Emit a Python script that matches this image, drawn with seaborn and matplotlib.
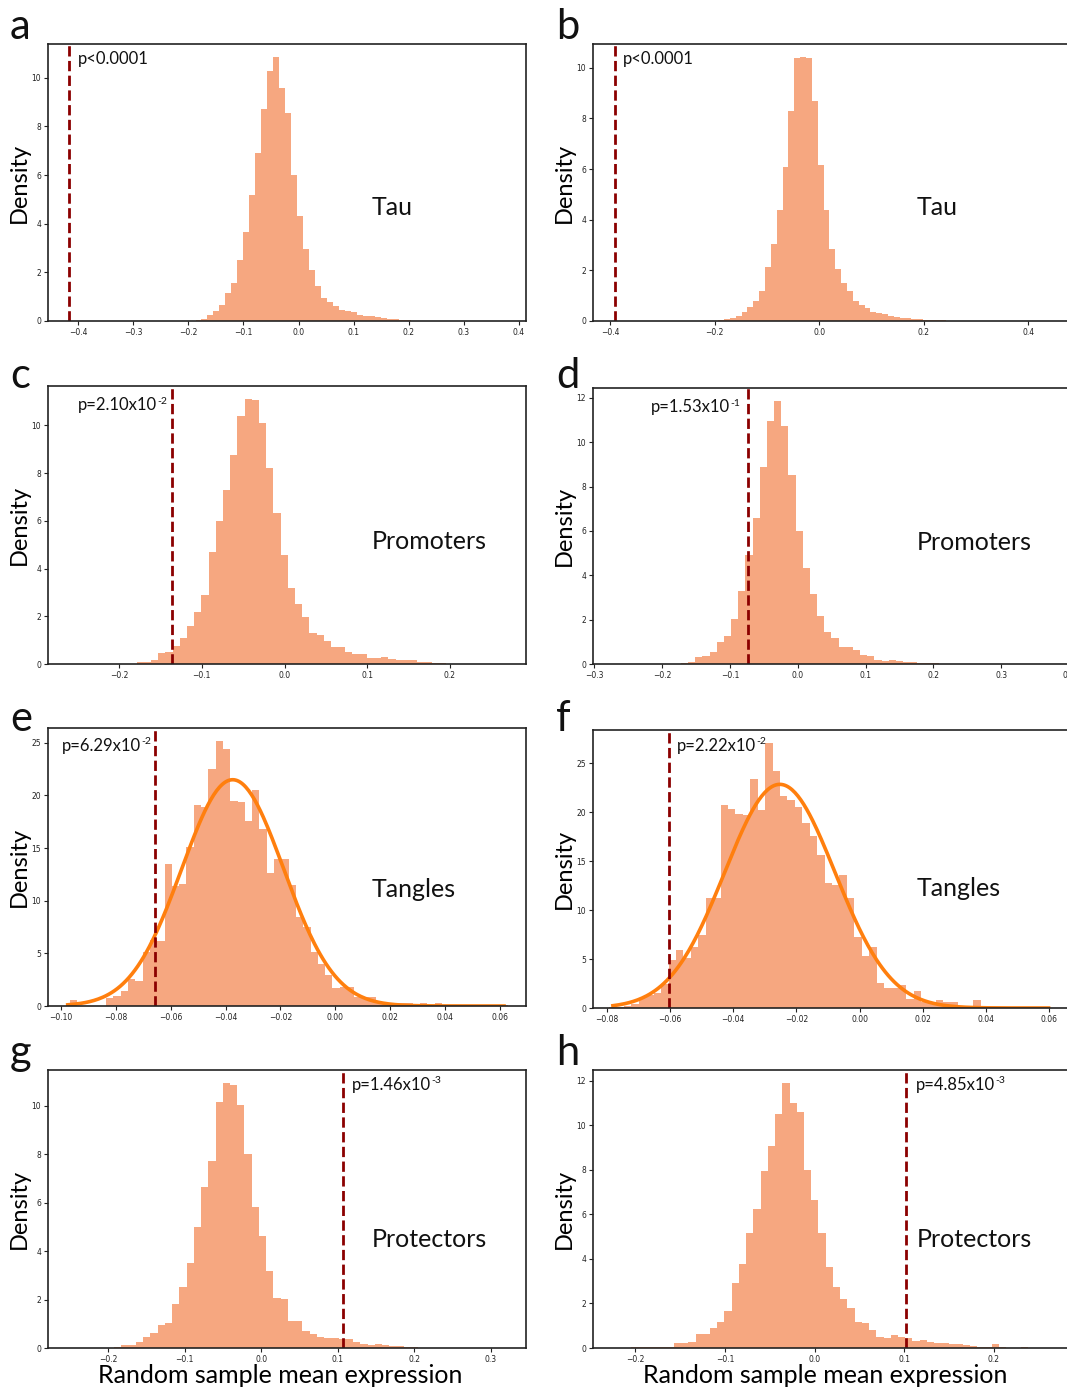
import numpy as np
import matplotlib
matplotlib.use("Agg")
import matplotlib.pyplot as plt
import seaborn as sns

# ---- data (density per bin) ----
# a: Tau, left column
tau_a_start, tau_a_width = -0.198, 0.01085
tau_a_density = [0.02, 0.05, 0.1, 0.25, 0.4, 0.65, 1.15, 1.55, 2.5, 3.65, 5.2, 6.9, 8.7, 10.3,
                 10.85, 9.6, 8.55, 6.0, 4.3, 2.95, 2.1, 1.45, 0.95, 0.8, 0.6, 0.45, 0.4, 0.35,
                 0.25, 0.2, 0.2, 0.15, 0.12, 0.1, 0.07, 0.05, 0.03, 0.02, 0.01, 0.01]
tau_a_obs = -0.417

# b: Tau, right column
tau_b_start, tau_b_width = -0.193, 0.0112
tau_b_density = [0.04, 0.08, 0.12, 0.2, 0.35, 0.55, 0.8, 1.2, 2.15, 3.05, 4.4, 6.1, 8.3, 10.4,
                 10.42, 10.4, 8.7, 6.15, 4.4, 2.85, 2.05, 1.5, 1.2, 0.8, 0.65, 0.5, 0.35, 0.3,
                 0.27, 0.2, 0.17, 0.13, 0.1, 0.08, 0.06, 0.05, 0.03, 0.03, 0.02, 0.01]
tau_b_obs = -0.390

# c: Promoters, left
prom_c_start, prom_c_width = -0.1788, 0.0087
prom_c_density = [0.07, 0.1, 0.15, 0.45, 0.5, 0.75, 1.1, 1.6, 2.2, 2.9, 4.7, 6.0, 7.3, 8.75,
                  10.4, 11.1, 11.05, 10.1, 8.2, 6.35, 4.55, 3.2, 2.5, 1.95, 1.3, 1.2, 0.95, 0.7,
                  0.7, 0.5, 0.4, 0.42, 0.25, 0.25, 0.3, 0.2, 0.15, 0.15, 0.18, 0.07, 0.07, 0.05,
                  0.03, 0.02, 0.01, 0.01]
prom_c_obs = -0.1355

# d: Promoters, right
prom_d_start, prom_d_width = -0.204, 0.01057
prom_d_density = [0.01, 0.02, 0.02, 0.03, 0.1, 0.3, 0.35, 0.55, 1.0, 1.25, 2.05, 3.3, 4.9, 6.6,
                  8.9, 10.95, 11.85, 10.75, 8.5, 6.0, 4.35, 3.15, 2.15, 1.45, 1.15, 0.75, 0.75,
                  0.65, 0.42, 0.35, 0.2, 0.15, 0.2, 0.12, 0.1, 0.08, 0.05, 0.05, 0.03, 0.01]
prom_d_obs = -0.0732

# e: Tangles, left (with normal fit)
tang_e_start, tang_e_width = -0.0968, 0.00266
tang_e_density = [0.57, 0, 0, 0, 0, 0.73, 0.92, 1.46, 2.58, 2.42, 5.09, 6.3, 6.2, 13.45, 11.4,
                  11.6, 15.1, 19.1, 18.95, 22.5, 25.15, 24.4, 19.5, 19.4, 17.6, 20.5, 16.85,
                  12.65, 14.0, 14.0, 11.5, 8.5, 7.5, 5.1, 4.0, 2.9, 1.75, 1.85, 1.8, 0.9, 0.9,
                  0.85, 0.4, 0.3, 0.3, 0.3, 0.25, 0.1, 0.3, 0.1, 0.3, 0.05, 0.05, 0.05, 0.05,
                  0.05, 0.05, 0.05, 0.05, 0.05]
tang_e_obs = -0.0658
tang_e_fit = (-0.0374, 0.01856, -0.0975, 0.0615)   # mean, sd, x from, x to

# f: Tangles, right (with normal fit)
tang_f_start, tang_f_width = -0.0792, 0.00235
tang_f_density = [0.1, 0.1, 0.2, 0.4, 1.0, 1.33, 1.5, 2.5, 4.9, 5.9, 5.1, 6.2, 7.5, 11.2, 11.2,
                  20.7, 20.3, 19.8, 19.7, 23.4, 20.2, 27.05, 24.2, 21.7, 21.2, 20.5, 18.9, 17.6,
                  15.6, 12.8, 12.6, 13.6, 11.2, 7.3, 5.3, 6.2, 2.6, 2.0, 2.0, 2.4, 0.9, 1.7,
                  0.65, 0.65, 0.8, 0.6, 0.6, 0.15, 0.15, 0.8, 0.05, 0.05, 0.05, 0.05, 0.05,
                  0.05, 0.05, 0.05, 0.05]
tang_f_obs = -0.0602
tang_f_fit = (-0.0252, 0.01746, -0.0780, 0.0598)

# g: Protectors, left
prot_g_start, prot_g_width = -0.1921, 0.00946
prot_g_density = [0.05, 0.12, 0.12, 0.26, 0.44, 0.63, 0.94, 1.03, 1.82, 2.53, 3.51, 4.99, 6.67,
                  7.74, 10.17, 10.94, 10.87, 10.04, 8.0, 5.84, 4.63, 3.18, 2.05, 2.02, 1.12,
                  1.12, 0.7, 0.56, 0.47, 0.4, 0.4, 0.37, 0.37, 0.26, 0.15, 0.12, 0.15, 0.12,
                  0.08, 0.08, 0.03, 0.03, 0.01, 0.01]
prot_g_obs = 0.1067

# h: Protectors, right
prot_h_start, prot_h_width = -0.2374, 0.00806
prot_h_density = [0.02, 0.02, 0.01, 0.02, 0.06, 0.05, 0.03, 0.05, 0.06, 0.06, 0.21, 0.24, 0.25,
                  0.63, 0.61, 0.91, 1.18, 1.66, 2.9, 3.77, 5.16, 6.24, 7.95, 9.07, 10.51, 11.89,
                  11.02, 10.61, 7.98, 6.65, 5.15, 3.65, 2.75, 2.19, 1.81, 1.15, 1.14, 0.81, 0.51,
                  0.46, 0.58, 0.51, 0.43, 0.31, 0.34, 0.28, 0.21, 0.22, 0.16, 0.16, 0.13, 0.1,
                  0.06, 0.06, 0.16, 0.03, 0.02, 0.02, 0.04]
prot_h_obs = 0.1015

p_base = ["p<0.0001", "p<0.0001", "p=2.10x10", "p=1.53x10",
          "p=6.29x10", "p=2.22x10", "p=1.46x10", "p=4.85x10"]
p_exp = ["", "", "-2", "-1", "-2", "-2", "-3", "-3"]
group_names = ["Tau", "Tau", "Promoters", "Promoters", "Tangles", "Tangles",
               "Protectors", "Protectors"]
panel_letters = list("abcdefgh")

# ---- style ----
plt.rcParams["font.family"] = ["DejaVu Sans"]

BAR = "#F6A780"
VLINE = "#8B0000"
FIT = "#FF7F0E"
TXT = ["Lato", "DejaVu Sans"]

W, H = 1067, 1387
fig = plt.figure(figsize=(W / 100, H / 100), dpi=100)

# (left px, top px, bottom px) of each axes
boxes = [(48, 44, 321), (593, 44, 321),
         (48, 386, 664), (593, 388, 664),
         (48, 728, 1006), (593, 730, 1008),
         (48, 1070, 1348), (593, 1070, 1348)]
ax_w = 478

panels = [
    (tau_a_start, tau_a_width, tau_a_density, tau_a_obs, None, (-0.455, 0.413), np.arange(-0.4, 0.41, 0.1), 2),
    (tau_b_start, tau_b_width, tau_b_density, tau_b_obs, None, (-0.4325, 0.482), np.arange(-0.4, 0.41, 0.2), 2),
    (prom_c_start, prom_c_width, prom_c_density, prom_c_obs, None, (-0.286, 0.292), np.arange(-0.2, 0.21, 0.1), 2),
    (prom_d_start, prom_d_width, prom_d_density, prom_d_obs, None, (-0.302, 0.403), np.arange(-0.3, 0.41, 0.1), 2),
    (tang_e_start, tang_e_width, tang_e_density, tang_e_obs, tang_e_fit, (-0.1047, 0.0695), np.arange(-0.10, 0.061, 0.02), 5),
    (tang_f_start, tang_f_width, tang_f_density, tang_f_obs, tang_f_fit, (-0.0843, 0.0669), np.arange(-0.08, 0.061, 0.02), 5),
    (prot_g_start, prot_g_width, prot_g_density, prot_g_obs, None, (-0.2785, 0.346), np.arange(-0.2, 0.31, 0.1), 2),
    (prot_h_start, prot_h_width, prot_h_density, prot_h_obs, None, (-0.247, 0.286), np.arange(-0.2, 0.21, 0.1), 2),
]

# p-value text positions (axes fraction) and group label heights
p_pos = [(0.063, 0.946), (0.063, 0.946), (0.063, 0.93), (0.121, 0.93),
         (0.029, 0.935), (0.176, 0.942), (0.636, 0.946), (0.676, 0.946)]
name_y = [0.41, 0.41, 0.44, 0.44, 0.42, 0.43, 0.39, 0.39]
letter_pos = [(10, 39), (556, 39), (10, 388), (556, 388),
              (10, 731), (556, 731), (10, 1065), (556, 1065)]

for i, (start, width, dens, obs, fit, xlim, xticks, ystep) in enumerate(panels):
    left, top, bottom = boxes[i]
    ax = fig.add_axes([left / W, 1 - bottom / H, ax_w / W, (bottom - top) / H])

    edges = start + width * np.arange(len(dens) + 1)
    centers = edges[:-1] + width / 2
    sns.histplot(x=centers, weights=dens, bins=edges.tolist(), ax=ax, color=BAR,
                 alpha=1, linewidth=0, edgecolor=BAR)

    if fit is not None:
        mu, sd, x0, x1 = fit
        xs = np.linspace(x0, x1, 300)
        ys = np.exp(-0.5 * ((xs - mu) / sd) ** 2) / (sd * np.sqrt(2 * np.pi))
        sns.lineplot(x=xs, y=ys, ax=ax, color=FIT, linewidth=2.6)

    ax.axvline(obs, color=VLINE, linestyle="--", linewidth=2)

    ax.set_xlim(*xlim)
    ax.set_xticks(xticks)
    ymax = max(dens) * 1.05
    ax.set_ylim(0, ymax)
    ax.set_yticks(np.arange(0, ymax, ystep))

    for sp in ax.spines.values():
        sp.set_color("#222222")
        sp.set_linewidth(1.2)
    ax.tick_params(labelsize=5.5, length=3, width=0.8, pad=2, colors="#222222")

    ax.set_ylabel("Density", fontsize=17, family=TXT)
    ax.yaxis.set_label_coords(-18 / ax_w, 0.5)
    if i >= 6:
        ax.set_xlabel("Random sample mean expression", fontsize=18, family=TXT)
        ax.xaxis.set_label_coords(0.485, -0.058)
    else:
        ax.set_xlabel("")

    px, py = p_pos[i]
    base = ax.text(px, py, p_base[i], transform=ax.transAxes, fontsize=12,
                   family=TXT, ha="left", va="center", color="#111111")
    if p_exp[i]:
        ax.annotate(p_exp[i], xy=(1, 1), xycoords=base, xytext=(0.3, 0.5),
                    textcoords="offset points", fontsize=7.5, family=TXT,
                    ha="left", va="top", color="#111111")
    ax.text(0.678, name_y[i], group_names[i], transform=ax.transAxes,
            fontsize=18, family=TXT, ha="left", va="center", color="#111111")

    lx, ly = letter_pos[i]
    fig.text(lx / W, 1 - ly / H, panel_letters[i], fontsize=30, family=TXT,
             ha="left", va="baseline", color="#111111")

fig.savefig("out.png", dpi=100)
